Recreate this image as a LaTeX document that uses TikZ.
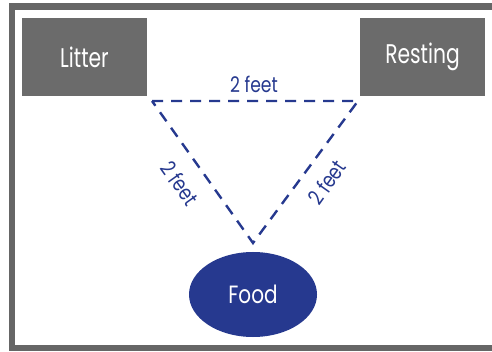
\documentclass[tikz,border=0pt]{standalone}
\usepackage{fontspec}
\setmainfont{Poppins}
\usetikzlibrary{shapes.geometric}
\definecolor{boxgray}{HTML}{6B6B6B}
\definecolor{framegray}{HTML}{666666}
\definecolor{navy}{HTML}{26398F}
\tikzset{
  placebox/.style={fill=boxgray, text=white, minimum width=125pt, minimum height=78pt, inner sep=0pt, font=\fontsize{27}{27}\selectfont},
  dist/.style={navy, line width=2.4pt, dash pattern=on 11pt off 8pt},
  distlabel/.style={text=navy, inner sep=0pt, font=\fontsize{21.5}{21.5}\selectfont},
  foodnode/.style={ellipse, fill=navy, text=white, minimum width=128pt, minimum height=85pt, inner sep=0pt, font=\fontsize{25}{25}\selectfont}
}
\begin{document}
\begin{tikzpicture}[x=1pt,y=-1pt]
\useasboundingbox (0,0) rectangle (492,352);
\fill[white] (0,0) rectangle (492,352);
\draw[framegray, line width=6.5pt] (12,6.5) rectangle (495,348);
\node[placebox] (litter) at (84.5,57) {\scalebox{0.75}[1]{Litter}};
\node[placebox] (resting) at (422.5,57) {\scalebox{0.75}[1]{Resting}};
\node[foodnode] (food) at (253,294.5) {\scalebox{0.8}[1]{Food}};
\coordinate (tl) at (152,101);
\coordinate (tr) at (358,101);
\coordinate (ap) at (253,243);
\draw[dist] (tl) -- (tr) -- (ap) -- cycle;
\node[distlabel] (ltop) at (254,84) {\scalebox{0.8}[1]{2 feet}};
\node[distlabel, rotate=-54.6] (lleft) at (180,183) {\scalebox{0.8}[1]{2 feet}};
\node[distlabel, rotate=54.6] (lright) at (327,182) {\scalebox{0.8}[1]{2 feet}};
\end{tikzpicture}
\end{document}
